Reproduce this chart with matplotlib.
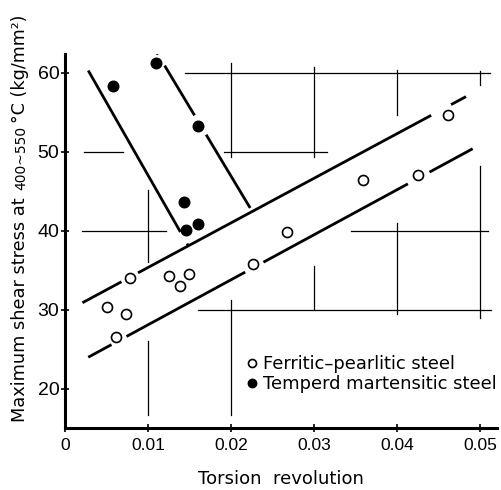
import matplotlib
matplotlib.use("Agg")
import matplotlib.pyplot as plt
import numpy as np

# ---------------- data ----------------
ferritic_x = [0.0050, 0.0078, 0.0073, 0.0061, 0.0125, 0.0138, 0.0149,
              0.0227, 0.0267, 0.0359, 0.0425, 0.0461]
ferritic_y = [30.4, 34.0, 29.5, 26.5, 34.3, 33.0, 34.5,
              35.8, 39.9, 46.4, 47.1, 54.7]
martensitic_x = [0.0058, 0.0110, 0.0160, 0.0143, 0.0146, 0.0160]
martensitic_y = [58.3, 61.3, 53.3, 43.7, 40.1, 40.9]

# trend lines: endpoints (x, y) and x-ranges left blank around markers
upper_x = [0.0021, 0.0483]
upper_y = [30.9, 57.0]
upper_gaps = [(0.0068, 0.0088), (0.0441, 0.0465)]
lower_x = [0.0028, 0.0491]
lower_y = [24.0, 50.4]
lower_gaps = [(0.0056, 0.0074), (0.0217, 0.0239), (0.0413, 0.0439)]
mart_left_x = [0.0028, 0.0148]
mart_left_y = [60.3, 38.2]
mart_left_gaps = [(0.0139, 0.0147)]
mart_right_x = [0.0107, 0.0223]
mart_right_y = [63.2, 42.9]
mart_right_gaps = [(0.0112, 0.0120), (0.0156, 0.0170)]

# partial background grid of the original drawing
h_grid_y = [60, 50, 50, 40, 40, 30]
h_grid_x0 = [0.0145, 0.0023, 0.0192, 0.0020, 0.0344, 0.0160]
h_grid_x1 = [0.0512, 0.0070, 0.0315, 0.0122, 0.0510, 0.0513]
v_grid_x = [0.01, 0.01, 0.02, 0.02, 0.03, 0.03, 0.04, 0.04, 0.05, 0.05]
v_grid_y0 = [36.0, 16.7, 49.4, 16.7, 49.3, 30.0, 54.7, 29.5, 58.5, 29.0]
v_grid_y1 = [45.2, 26.0, 61.2, 31.3, 60.8, 35.5, 60.4, 41.0, 60.2, 48.2]

x_ticks = [0, 0.01, 0.02, 0.03, 0.04, 0.05]
x_tick_labels = ["0", "0.01", "0.02", "0.03", "0.04", "0.05"]
y_ticks = [20, 30, 40, 50, 60]
y_tick_labels = ["20", "30", "40", "50", "60"]

legend_labels = ["Ferritic\u2013pearlitic steel", "Temperd martensitic steel"]
x_label = "Torsion  revolution"
y_label_parts = ["Maximum shear stress at", "400~550", "\u00b0C (kg/mm\u00b2)"]

# ---------------- figure ----------------
plt.rcParams["font.family"] = ["DejaVu Sans"]
fig = plt.figure(figsize=(5.02, 4.90), dpi=100)
ax = fig.add_axes([0.1295, 0.1259, 0.86, 0.764])
ax.set_xlim(0, 0.052)
ax.set_ylim(15, 62.4)

# grid fragments
for y, x0, x1 in zip(h_grid_y, h_grid_x0, h_grid_x1):
    ax.plot([x0, x1], [y, y], color="black", lw=0.9, zorder=1)
for x, y0, y1 in zip(v_grid_x, v_grid_y0, v_grid_y1):
    ax.plot([x, x], [y0, y1], color="black", lw=0.9, zorder=1)


def draw_broken(xs, ys, gaps, lw=2.0):
    x0, x1 = xs
    y0, y1 = ys
    cuts = [x0]
    for a, b in gaps:
        cuts += [a, b]
    cuts.append(x1)
    for i in range(0, len(cuts), 2):
        sx = np.array([cuts[i], cuts[i + 1]])
        sy = y0 + (sx - x0) * (y1 - y0) / (x1 - x0)
        ax.plot(sx, sy, color="black", lw=lw, solid_capstyle="butt", zorder=2)


draw_broken(upper_x, upper_y, upper_gaps)
draw_broken(lower_x, lower_y, lower_gaps)
draw_broken(mart_left_x, mart_left_y, mart_left_gaps)
draw_broken(mart_right_x, mart_right_y, mart_right_gaps)

h1, = ax.plot(ferritic_x, ferritic_y, linestyle="none", marker="o", ms=7.2,
              mfc="white", mec="black", mew=1.2, zorder=3)
h2, = ax.plot(martensitic_x, martensitic_y, linestyle="none", marker="o", ms=7.6,
              mfc="black", mec="black", zorder=3)

leg = ax.legend([h1, h2], legend_labels, loc="upper left",
                bbox_to_anchor=(0.422, 0.196), frameon=False, fontsize=12.9,
                handlelength=0.5, handletextpad=0.4, labelspacing=0.12,
                borderpad=0, borderaxespad=0, markerscale=0.8)

# spines & ticks
for s in ["top", "right"]:
    ax.spines[s].set_visible(False)
for s in ["left", "bottom"]:
    ax.spines[s].set_linewidth(2.2)

ax.set_xticks(x_ticks)
ax.set_xticklabels(x_tick_labels, fontfamily="Liberation Sans", fontsize=12.5)
ax.set_yticks(y_ticks)
ax.set_yticklabels(y_tick_labels, fontfamily="Liberation Sans", fontsize=14)
ax.tick_params(axis="x", direction="inout", length=6, width=1.2, pad=4)
ax.tick_params(axis="y", direction="inout", length=6, width=1.2, pad=1)

ax.set_xlabel(x_label, fontsize=13, labelpad=12)

# y label in three pieces (middle part smaller)
t1 = fig.text(29 / 502, 68 / 490, y_label_parts[0], rotation=90,
              ha="right", va="bottom", fontsize=12.8)
t2 = ax.annotate(y_label_parts[1], xy=(1, 1), xycoords=t1,
                 xytext=(-1, 7), textcoords="offset pixels",
                 rotation=90, ha="right", va="bottom", fontsize=10,
                 annotation_clip=False)
t3 = ax.annotate(y_label_parts[2], xy=(1, 1), xycoords=t2,
                 xytext=(1, 3), textcoords="offset pixels",
                 rotation=90, ha="right", va="bottom", fontsize=12.6,
                 annotation_clip=False)

fig.savefig("out.png", dpi=100)
